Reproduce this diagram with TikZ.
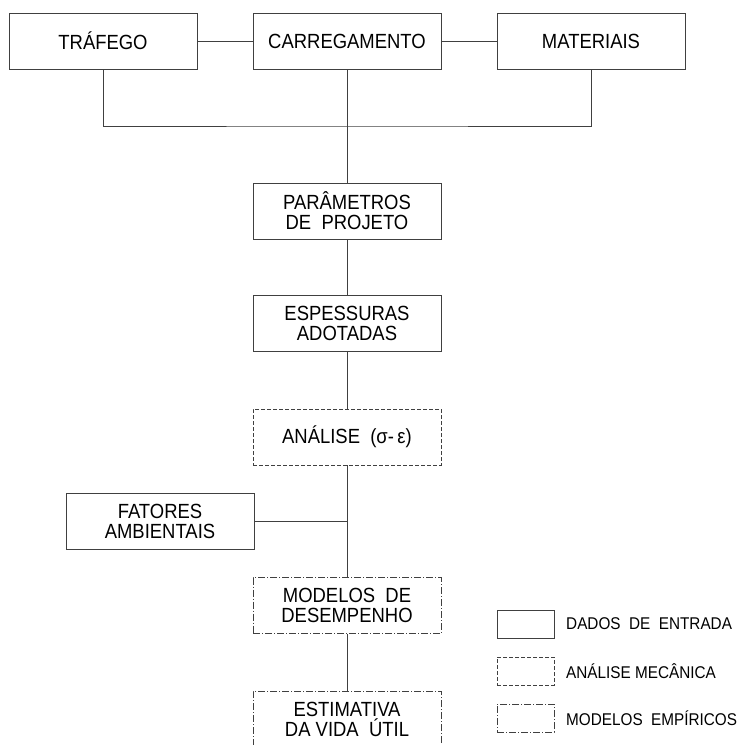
\documentclass[tikz,border=0pt]{standalone}
\usepackage{fontspec}
\setmainfont{Liberation Sans}
\newfontfamily\boxfont[FakeStretch=0.9]{Liberation Sans}
\begin{document}
\begin{tikzpicture}[x=1pt,y=-1pt,
  ln/.style={draw=black!75,line width=0.9pt},
  mainbox/.style={ln,fill=white,minimum width=188pt,minimum height=56pt,inner sep=0pt,align=center,
    font=\boxfont\fontsize{20.5}{20}\selectfont},
  dashbox/.style={mainbox,dash pattern=on 4pt off 2pt},
  empbox/.style={mainbox,dash pattern=on 7pt off 2pt on 1pt off 2pt},
  legbox/.style={ln,minimum width=57pt,minimum height=28pt,inner sep=0pt},
  legtext/.style={anchor=west,inner sep=0pt,font=\boxfont\fontsize{17}{18}\selectfont}
]
\useasboundingbox (0,0) rectangle (742,745);
% top row
\node[mainbox] (traf) at (103,41) {TRÁFEGO};
\node[mainbox] (carr) at (347,41) {CARREGAMENTO};
\node[mainbox] (mat) at (591,41) {MATERIAIS};
\draw[ln] (traf) -- (carr);
\draw[ln] (carr) -- (mat);
\coordinate (bus) at (347,126);
% chain
\node[mainbox] (param) at (347,211) {PARÂMETROS\\DE\ \ PROJETO};
\node[mainbox] (esp) at (347,323.5) {ESPESSURAS\\ADOTADAS};
\node[dashbox] (anal) at (347,437) {ANÁLISE\ \ (σ-\,ε)};
\node[mainbox] (fat) at (160,521) {FATORES\\AMBIENTAIS};
\node[empbox] (mod) at (347,605.5) {MODELOS\ \ DE\\DESEMPENHO};
\node[empbox] (est) at (347,719) {ESTIMATIVA\\DA VIDA\ \ ÚTIL};
% connectors
\draw[ln] (traf.south) |- (bus) -| (mat.south);
\draw[ln] (carr.south) -- (param.north);
\draw[ln] (param.south) -- (esp.north);
\draw[ln] (esp.south) -- (anal.north);
\draw[ln] (anal.south) -- (mod.north);
\draw[ln] (fat.east) -- (fat.east -| anal.south);
\draw[ln] (mod.south) -- (est.north);
% legend
\node[legbox] (l1) at (525.5,624) {};
\node[legbox,dash pattern=on 4pt off 2pt] (l2) at (525.5,671) {};
\node[legbox,dash pattern=on 7pt off 2pt on 1pt off 2pt] (l3) at (525.5,718) {};
\node[legtext] (t1) at (566,624) {DADOS\ \ DE\ \ ENTRADA};
\node[legtext] (t2) at (566,671) {ANÁLISE MECÂNICA};
\node[legtext] (t3) at (566,718) {MODELOS\ \ EMPÍRICOS};
\end{tikzpicture}
\end{document}
